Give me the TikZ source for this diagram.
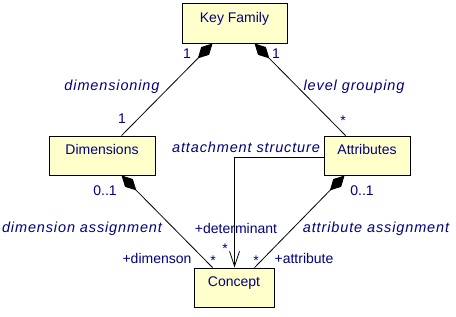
\documentclass[tikz,border=0pt]{standalone}
\usepackage{fontspec}
\setmainfont{Liberation Sans}
\usetikzlibrary{arrows.meta,calc}
\definecolor{lbl}{RGB}{0,0,128}
\definecolor{boxfill}{RGB}{255,255,204}
\tikzset{
  cls/.style={draw=black, line width=0.9bp, fill=boxfill, text=lbl, font=\fontsize{14bp}{16bp}\selectfont, text height=10bp, text depth=12bp, inner sep=0pt},
  lab/.style={text=lbl, font=\fontsize{14bp}{16bp}\selectfont, anchor=base, inner sep=0pt},
  ilab/.style={text=lbl, font=\fontsize{14.5bp}{16bp}\selectfont\itshape\addfontfeature{LetterSpace=6}, anchor=base, inner sep=0pt},
  conn/.style={draw=black, line width=0.8bp},
  comp/.style={conn, {Diamond[length=21bp,width=11bp]}-},
  nav/.style={conn, -{Straight Barb[length=15bp,width=10bp,line width=0.8bp]}}
}
\begin{document}
\begin{tikzpicture}[x=1bp,y=-1bp]
\useasboundingbox (0,0) rectangle (456,316);
\node[cls, minimum width=105bp, minimum height=40bp] (kf) at (234.5,23) {Key Family};
\node[cls, minimum width=106bp, minimum height=39bp] (dim) at (102,155.5) {Dimensions};
\node[cls, minimum width=86bp, minimum height=39bp] (att) at (367,155.5) {Attributes};
\node[cls, minimum width=80bp, minimum height=39bp] (con) at (234,287.5) {Concept};

\draw[comp] ($(kf.south west)+(31,0)$) -- ($(dim.north west)+(73,0)$);
\draw[comp] ($(kf.south west)+(73,0)$) -- ($(att.north west)+(22,0)$);
\draw[comp] ($(dim.south west)+(73,0)$) -- ($(con.north west)+(19,0)$);
\draw[comp] ($(att.south west)+(21,0)$) -- ($(con.north west)+(61,0)$);
\draw[nav] ($(att.west)+(0,1.5)$) -| ($(con.north west)+(41,0)$);

\node[lab] (m1) at (187,58) {1};
\node[lab] (m2) at (276,58) {1};
\node[ilab] (r1) at (112,90) {dimensioning};
\node[lab] (m3) at (122,123) {1};
\node[ilab] (r2) at (354,90) {level grouping};
\node[lab] (m4) at (343,125) {*};
\node[lab] (m5) at (105,195) {0..1};
\node[lab] (m6) at (362,195) {0..1};
\node[ilab] (r3) at (246,152) {attachment structure};
\node[ilab] (r4) at (82,232) {dimension assignment};
\node[ilab] (r5) at (376,232) {attribute assignment};
\node[lab] (e1) at (236,233) {+determinant};
\node[lab] (m7) at (225,253) {*};
\node[lab] (e2) at (157,263) {+dimenson};
\node[lab] (m8) at (213,265) {*};
\node[lab] (m9) at (256,265) {*};
\node[lab] (e3) at (304,263) {+attribute};
\end{tikzpicture}
\end{document}
